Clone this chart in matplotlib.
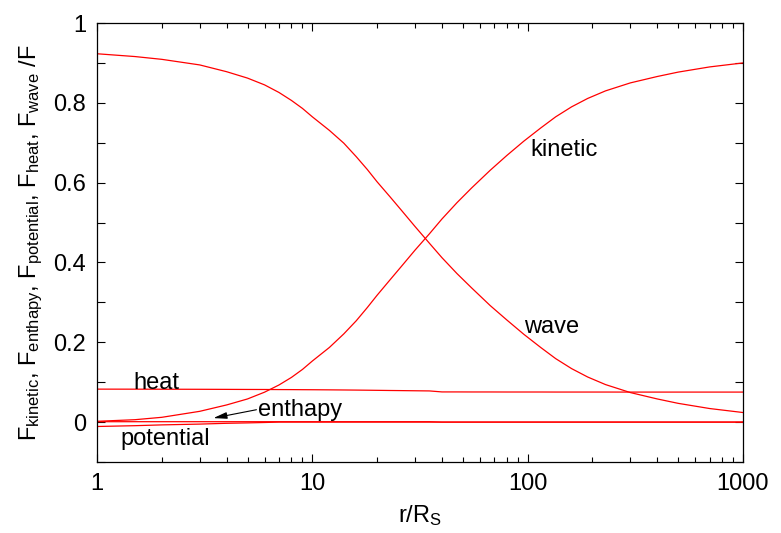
import numpy as np
import matplotlib
matplotlib.use('Agg')
import matplotlib.pyplot as plt
from matplotlib.ticker import MultipleLocator, FixedLocator, NullFormatter

plt.rcParams['font.family'] = 'Liberation Sans'
plt.rcParams['mathtext.fontset'] = 'custom'
plt.rcParams['mathtext.rm'] = 'Liberation Sans'
plt.rcParams['mathtext.it'] = 'Liberation Sans'

# radial distance r/R_S
r = [1, 1.5, 2, 3, 4, 5, 6, 7, 8, 9, 10, 12, 14, 16, 18, 20, 23, 26, 30,
     35, 40, 47, 55, 67, 80, 96, 115, 135, 160, 190, 230, 300, 400, 500,
     700, 1000]

# energy flux fractions
f_wave = [0.923, 0.916, 0.909, 0.895, 0.878, 0.862, 0.845, 0.826, 0.806,
          0.786, 0.765, 0.731, 0.699, 0.665, 0.633, 0.602, 0.564, 0.530,
          0.490, 0.448, 0.412, 0.372, 0.336, 0.292, 0.256, 0.220, 0.187,
          0.159, 0.134, 0.113, 0.094, 0.074, 0.058, 0.047, 0.034, 0.024]
f_kinetic = [0.002, 0.006, 0.012, 0.027, 0.043, 0.058, 0.075, 0.093, 0.112,
             0.132, 0.153, 0.187, 0.221, 0.254, 0.287, 0.318, 0.357, 0.391,
             0.431, 0.472, 0.509, 0.550, 0.587, 0.631, 0.668, 0.704, 0.737,
             0.765, 0.790, 0.811, 0.830, 0.850, 0.866, 0.877, 0.890, 0.900]
f_heat = [0.0826, 0.0825, 0.0824, 0.0822, 0.0820, 0.0818, 0.0817, 0.0815,
          0.0814, 0.0812, 0.0811, 0.0808, 0.0805, 0.0802, 0.0799, 0.0796,
          0.0792, 0.0789, 0.0785, 0.0781, 0.0756, 0.0756, 0.0755, 0.0755,
          0.0754, 0.0754, 0.0754, 0.0753, 0.0753, 0.0753, 0.0753, 0.0752,
          0.0752, 0.0752, 0.0752, 0.0752]
f_enthapy = [0.001] * 20 + [0.0] * 16
f_potential = [-0.011, -0.009, -0.007, -0.005, -0.003, -0.002, -0.001,
               0.0, 0.0, 0.0] + [0.0] * 26

# label text and anchor (r, value)
labels = ['kinetic', 'wave', 'heat', 'enthapy', 'potential']
label_r = [102.8, 95.7, 1.475, 5.58, 1.28]
label_y = [0.682, 0.238, 0.099, 0.030, -0.043]

fig = plt.figure(figsize=(7.81, 5.33), dpi=100)
ax = fig.add_axes([0.1242, 0.1332, 0.8271, 0.8236])

for f in [f_wave, f_kinetic, f_heat, f_enthapy, f_potential]:
    ax.plot(r, f, color='red', lw=0.9)

for t, xr, yv in zip(labels, label_r, label_y):
    ax.text(xr, yv, t, fontsize=17, ha='left', va='center')

ax.annotate('', xy=(3.47, 0.010), xytext=(5.5, 0.031),
            arrowprops=dict(arrowstyle='-|>,head_length=0.9,head_width=0.22',
                            color='black', lw=0.8, mutation_scale=9,
                            shrinkA=0, shrinkB=0))

ax.set_xscale('log')
ax.set_xlim(1, 1000)
ax.set_ylim(-0.1, 1.0)
ax.xaxis.set_major_locator(FixedLocator([1, 10, 100, 1000]))
ax.set_xticklabels(['1', '10', '100', '1000'])
ax.xaxis.set_minor_formatter(NullFormatter())
ax.yaxis.set_major_locator(FixedLocator([0, 0.2, 0.4, 0.6, 0.8, 1.0]))
ax.set_yticklabels(['0', '0.2', '0.4', '0.6', '0.8', '1'])
ax.yaxis.set_minor_locator(MultipleLocator(0.1))

ax.tick_params(which='both', direction='in', top=True, right=True,
               labelsize=17, width=0.8, pad=8)
ax.tick_params(which='major', length=6)
ax.tick_params(axis='x', which='minor', length=3.5)
ax.tick_params(axis='y', which='minor', length=6)
for s in ax.spines.values():
    s.set_linewidth(0.9)

ax.set_xlabel(r'r/R$_\mathrm{S}$', fontsize=17, labelpad=6)
ax.set_ylabel(r'F$_\mathrm{kinetic}$, F$_\mathrm{enthapy}$, '
              r'F$_\mathrm{potential}$, F$_\mathrm{heat}$, F$_\mathrm{wave}$ /F',
              fontsize=17, labelpad=6)

fig.savefig('out.png', dpi=100)
